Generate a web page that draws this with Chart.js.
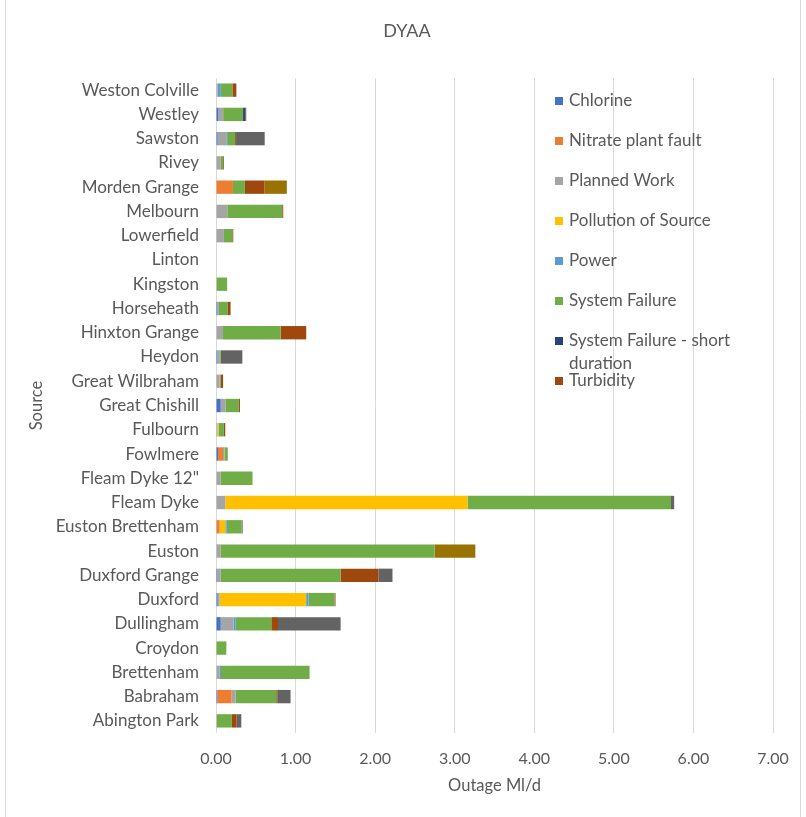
<!DOCTYPE html>
<html lang="en">
<head>
    <meta charset="UTF-8">
    <title>DYAA</title>
    <script src="https://cdn.jsdelivr.net/npm/chart.js@4.4.1/dist/chart.umd.min.js"></script>
    <style>
        body { margin: 0; background: #fff; }
        #wrap { width: 806px; height: 817px; position: relative; }
    </style>
</head>
<body>
    <div id="wrap">
        <canvas id="outageChart" width="806" height="817"></canvas>
    </div>

    <script>
        // sources, top to bottom as in the chart
        const sources = ['Weston Colville', 'Westley', 'Sawston', 'Rivey', 'Morden Grange', 'Melbourn',
            'Lowerfield', 'Linton', 'Kingston', 'Horseheath', 'Hinxton Grange', 'Heydon',
            'Great Wilbraham', 'Great Chishill', 'Fulbourn', 'Fowlmere', 'Fleam Dyke 12"', 'Fleam Dyke',
            'Euston Brettenham', 'Euston', 'Duxford Grange', 'Duxford', 'Dullingham', 'Croydon',
            'Brettenham', 'Babraham', 'Abington Park'];

        // outage Ml/d per cause (same order as sources)
        const chlorine      = [0, 0.03, 0.02, 0, 0, 0, 0, 0, 0, 0.017, 0, 0.017, 0, 0.059, 0, 0.025, 0, 0, 0, 0, 0.017, 0.02, 0.059, 0, 0, 0.017, 0];
        const nitrate       = [0, 0, 0, 0, 0.213, 0, 0, 0, 0, 0, 0, 0, 0, 0, 0, 0.063, 0, 0, 0.046, 0, 0, 0, 0, 0, 0, 0.18, 0];
        const plannedWork   = [0.02, 0.06, 0.11, 0.06, 0, 0.142, 0.1, 0, 0.01, 0.02, 0.088, 0.025, 0.046, 0.059, 0.017, 0.02, 0.059, 0.117, 0, 0.059, 0.042, 0.025, 0.163, 0, 0.046, 0.05, 0.01];
        const pollution     = [0, 0, 0, 0, 0, 0, 0, 0, 0, 0, 0, 0, 0, 0, 0.015, 0, 0, 3.045, 0.071, 0, 0, 1.088, 0, 0, 0, 0, 0];
        const power         = [0.04, 0, 0.01, 0, 0, 0, 0, 0, 0, 0, 0, 0, 0, 0, 0, 0, 0, 0, 0.017, 0, 0, 0.03, 0.025, 0, 0.017, 0, 0];
        const systemFailure = [0.146, 0.25, 0.1, 0.03, 0.15, 0.69, 0.105, 0, 0.13, 0.113, 0.724, 0.017, 0.013, 0.17, 0.067, 0.04, 0.4, 2.556, 0.188, 2.689, 1.506, 0.326, 0.448, 0.13, 1.113, 0.51, 0.19];
        const sfShort       = [0, 0.03, 0, 0, 0, 0, 0, 0, 0, 0, 0, 0, 0, 0, 0, 0, 0, 0, 0, 0, 0, 0, 0, 0, 0, 0, 0];
        const turbidity     = [0.05, 0.01, 0.012, 0.01, 0.247, 0.013, 0.012, 0, 0, 0.033, 0.322, 0, 0.03, 0.013, 0.017, 0, 0, 0, 0, 0, 0.477, 0.013, 0.084, 0, 0, 0.013, 0.059];
        // two more causes whose legend entries are cut off in the original
        const otherCause    = [0, 0, 0.36, 0, 0, 0, 0, 0, 0, 0, 0, 0.272, 0, 0, 0, 0, 0, 0.04, 0.013, 0, 0.176, 0, 0.787, 0, 0, 0.167, 0.059];
        const unknownCause  = [0, 0, 0, 0, 0.28, 0, 0, 0, 0, 0, 0, 0, 0, 0, 0, 0, 0, 0, 0, 0.511, 0, 0, 0, 0, 0, 0, 0];

        const xTicks = [0, 1, 2, 3, 4, 5, 6, 7];

        const series = [
            { label: 'Chlorine', data: chlorine, color: '#4472C4' },
            { label: 'Nitrate plant fault', data: nitrate, color: '#ED7D31' },
            { label: 'Planned Work', data: plannedWork, color: '#A5A5A5' },
            { label: 'Pollution of Source', data: pollution, color: '#FFC000' },
            { label: 'Power', data: power, color: '#5B9BD5' },
            { label: 'System Failure', data: systemFailure, color: '#70AD47' },
            { label: 'System Failure - short duration', data: sfShort, color: '#264478' },
            { label: 'Turbidity', data: turbidity, color: '#9E480E' },
            { label: 'Other', data: otherCause, color: '#636363', hideLegend: true },
            { label: 'Unknown', data: unknownCause, color: '#997300', hideLegend: true }
        ];

        const FONT = 'Lato, "Open Sans", sans-serif';
        const TXT = '#595959';

        // title, legend and frame drawn by hand so they sit where excel put them
        const sideLegend = {
            id: 'sideLegend',
            afterDraw(chart) {
                const ctx = chart.ctx;
                ctx.save();
                ctx.textBaseline = 'middle';
                ctx.fillStyle = TXT;
                ctx.font = '18px ' + FONT;
                ctx.textAlign = 'center';
                ctx.fillText('DYAA', 407, 31);

                ctx.font = '17px ' + FONT;
                ctx.textAlign = 'left';
                let y = 101;
                series.filter(s => !s.hideLegend).forEach(s => {
                    ctx.fillStyle = s.color;
                    ctx.fillRect(555, y - 4, 8, 8);
                    ctx.fillStyle = TXT;
                    if (s.label === 'System Failure - short duration') {
                        ctx.fillText('System Failure - short', 569, y);
                        ctx.fillText('duration', 569, y + 23);
                    } else {
                        ctx.fillText(s.label, 569, y);
                    }
                    y += 40;
                });

                ctx.strokeStyle = '#d9d9d9';
                ctx.lineWidth = 1;
                ctx.beginPath();
                ctx.moveTo(5.5, 0); ctx.lineTo(5.5, 817);
                ctx.moveTo(800.5, 0); ctx.lineTo(800.5, 817);
                ctx.stroke();
                ctx.restore();
            }
        };

        const ctx = document.getElementById('outageChart').getContext('2d');
        new Chart(ctx, {
            type: 'bar',
            data: {
                labels: sources,
                datasets: series.map(s => ({
                    label: s.label,
                    data: s.data,
                    backgroundColor: s.color,
                    borderWidth: 0,
                    barPercentage: 1,
                    categoryPercentage: 0.55
                }))
            },
            options: {
                indexAxis: 'y',
                responsive: false,
                animation: false,
                layout: { padding: { left: 20, right: 33, top: 78, bottom: 0 } },
                plugins: {
                    legend: { display: false },
                    tooltip: { enabled: false },
                    title: { display: false }
                },
                scales: {
                    x: {
                        stacked: true,
                        min: 0,
                        max: 7,
                        afterBuildTicks: axis => { axis.ticks = xTicks.map(v => ({ value: v })); },
                        afterFit: axis => { axis.height = 84; },
                        ticks: {
                            color: TXT,
                            font: { family: FONT, size: 16 },
                            padding: 16,
                            callback: v => Number(v).toFixed(2)
                        },
                        grid: { color: '#d9d9d9', drawTicks: false },
                        border: { display: false },
                        title: {
                            display: true,
                            text: 'Outage Ml/d',
                            color: TXT,
                            font: { family: FONT, size: 16.5 },
                            padding: { top: 0, bottom: 21 }
                        }
                    },
                    y: {
                        stacked: true,
                        afterFit: axis => { axis.width = 196; },
                        ticks: {
                            color: TXT,
                            font: { family: FONT, size: 17 },
                            padding: 17,
                            autoSkip: false
                        },
                        grid: { display: false, drawTicks: false },
                        border: { display: false },
                        title: {
                            display: true,
                            text: 'Source',
                            color: TXT,
                            font: { family: FONT, size: 16.5 },
                            padding: { top: 7, bottom: 0 }
                        }
                    }
                }
            },
            plugins: [sideLegend]
        });
    </script>
</body>
</html>
